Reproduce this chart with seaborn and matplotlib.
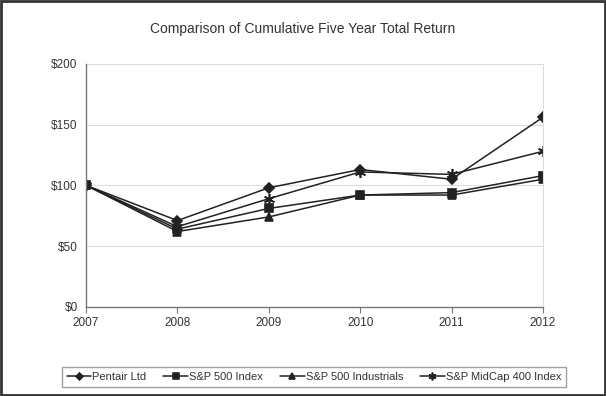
import pandas as pd
import matplotlib.pyplot as plt
import matplotlib.patches as mpatches
import seaborn as sns

years = [2007, 2008, 2009, 2010, 2011, 2012]
pentair = [100, 71, 98, 113, 105, 156]
sp500 = [100, 64, 81, 92, 94, 108]
industrials = [100, 62, 74, 92, 92, 105]
midcap = [100, 66, 89, 111, 109, 128]
series_names = ["Pentair Ltd", "S&P 500 Index", "S&P 500 Industrials", "S&P MidCap 400 Index"]
ytick_vals = [0, 50, 100, 150, 200]
ytick_labels = ["$0", "$50", "$100", "$150", "$200"]

rows = []
for name, vals in zip(series_names, [pentair, sp500, industrials, midcap]):
    for yr, v in zip(years, vals):
        rows.append({"year": yr, "value": v, "series": name})
df = pd.DataFrame(rows)

sns.set_style("white")
plt.rcParams["font.family"] = ["Liberation Sans", "DejaVu Sans"]

fig = plt.figure(figsize=(6.06, 3.96), dpi=100)
ax = fig.add_axes([0.142, 0.225, 0.754, 0.614])

line_col = "#222222"
text_col = "#333333"
markers = {"Pentair Ltd": "D", "S&P 500 Index": "s",
           "S&P 500 Industrials": "^", "S&P MidCap 400 Index": (6, 2, 0)}
sizes = {"Pentair Ltd": 5, "S&P 500 Index": 6, "S&P 500 Industrials": 6, "S&P MidCap 400 Index": 8}

for name in series_names:
    sub = df[df["series"] == name]
    sns.lineplot(data=sub, x="year", y="value", ax=ax, color=line_col, lw=1.1,
                 marker=markers[name], markersize=sizes[name], markeredgecolor=line_col,
                 markeredgewidth=1.2, label=name, legend=False)

ax.set_xlim(2007, 2012)
ax.set_ylim(0, 200)
ax.set_xticks(years)
ax.set_xticklabels([str(y) for y in years], fontsize=8.5, color=text_col)
ax.set_yticks(ytick_vals)
ax.set_yticklabels(ytick_labels, fontsize=8.5, color=text_col)
ax.set_xlabel("")
ax.set_ylabel("")
ax.grid(axis="y", color="#dddddd", lw=0.8)
ax.set_axisbelow(True)
ax.spines["top"].set_visible(False)
ax.spines["right"].set_color("#dddddd")
ax.spines["right"].set_linewidth(0.8)
for s in ["left", "bottom"]:
    ax.spines[s].set_color("#777777")
    ax.spines[s].set_linewidth(1.0)
ax.tick_params(axis="x", length=4, width=0.8, color="#777777", direction="out",
               bottom=True, pad=3)
ax.tick_params(axis="y", length=0, left=False, pad=6)

fig.text(0.5, 0.928, "Comparison of Cumulative Five Year Total Return",
         ha="center", va="center", fontsize=10, color=text_col)

handles, labels = ax.get_legend_handles_labels()
leg = fig.legend(handles, labels, loc="center", bbox_to_anchor=(0.518, 0.047), ncol=4,
                 fontsize=8, frameon=True, fancybox=False, handlelength=2.2,
                 handletextpad=0.1, columnspacing=1.55, borderpad=0.45, markerscale=0.7)
leg.get_frame().set_edgecolor("#888888")
leg.get_frame().set_linewidth(1.0)
for t in leg.get_texts():
    t.set_color(text_col)

fig.patches.append(mpatches.Rectangle((0.002, 0.002), 0.996, 0.996, transform=fig.transFigure,
                                      fill=False, edgecolor="#333333", lw=2))

fig.savefig("out.png", dpi=100)
